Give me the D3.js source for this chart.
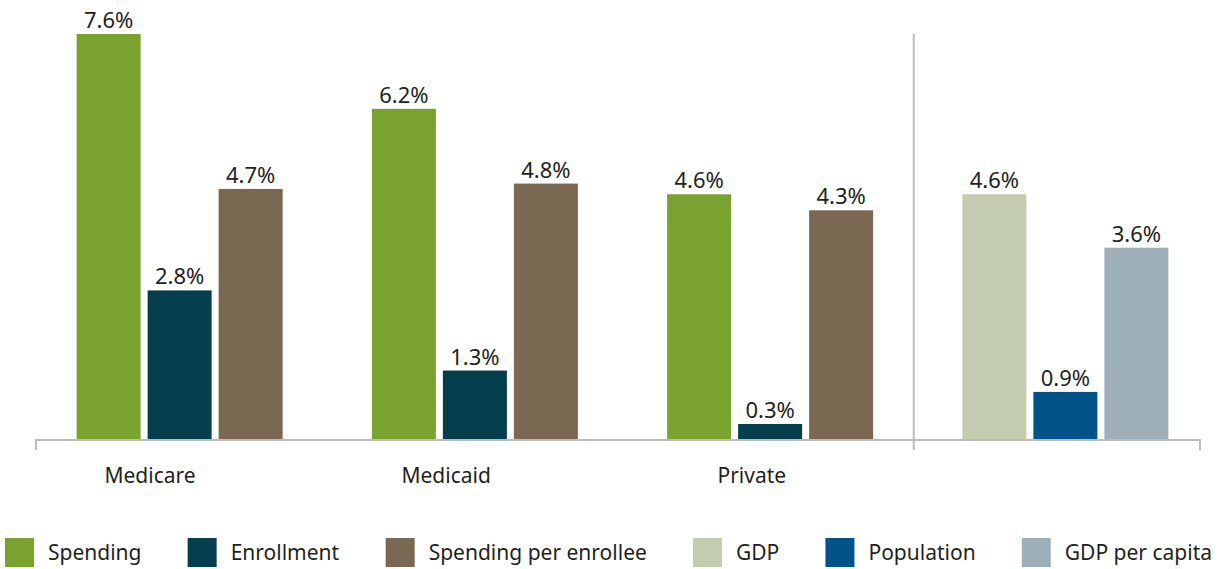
<!DOCTYPE html>
<html>
<head>
<meta charset="utf-8">
<script src="https://cdn.jsdelivr.net/npm/d3@7"></script>
<style>
  html, body { margin: 0; padding: 0; background: #fff; }
  svg { display: block; font-family: "Noto Sans", "Open Sans", sans-serif; }
</style>
</head>
<body>
<svg id="chart" width="1229" height="569"></svg>
<script>
// Average annual growth rates
const groups = ["Medicare", "Medicaid", "Private", "Economy"];
const groupLabels = ["Medicare", "Medicaid", "Private", ""];
const healthSeries = ["Spending", "Enrollment", "Spending per enrollee"];
const economySeries = ["GDP", "Population", "GDP per capita"];
const medicareValues = [7.6, 2.8, 4.7];
const medicaidValues = [6.2, 1.3, 4.8];
const privateValues = [4.6, 0.3, 4.3];
const economyValues = [4.6, 0.9, 3.6];
const legendNames = ["Spending", "Enrollment", "Spending per enrollee", "GDP", "Population", "GDP per capita"];
const legendColors = ["#7aa22f", "#053e4d", "#7b6853", "#c3ccaf", "#005389", "#9fafba"];

const groupValues = [medicareValues, medicaidValues, privateValues, economyValues];
const colorOf = d3.scaleOrdinal().domain(legendNames).range(legendColors);

const rows = [];
groups.forEach((g, gi) => {
  const names = gi < 3 ? healthSeries : economySeries;
  names.forEach((s, si) => rows.push({ group: g, slot: si, series: s, value: groupValues[gi][si] }));
});

const svg = d3.select("#chart");
const baseY = 440;
const axisLeft = 36, axisRight = 1200;

const x0 = d3.scaleBand().domain(groups).range([32, 1213]);
const x1 = d3.scaleBand().domain([0, 1, 2]).range([-103, 103]).paddingInner(7 / 71);
const y = d3.scaleLinear().domain([0, 7.6]).range([baseY, 34]);

const textColor = "#231f20";
const axisColor = "#bcbcbc";

// Bars
const bars = svg.append("g");
bars.selectAll("rect").data(rows).join("rect")
  .attr("x", d => x0(d.group) + x0.bandwidth() / 2 + x1(d.slot))
  .attr("width", x1.bandwidth())
  .attr("y", d => y(d.value))
  .attr("height", d => baseY - y(d.value))
  .attr("fill", d => colorOf(d.series));

// Value labels
bars.selectAll("text").data(rows).join("text")
  .attr("x", d => x0(d.group) + x0.bandwidth() / 2 + x1(d.slot) + x1.bandwidth() / 2)
  .attr("y", d => y(d.value) - 6)
  .attr("text-anchor", "middle")
  .attr("font-size", 22)
  .attr("fill", textColor)
  .text(d => d.value.toFixed(1) + "%");

// Category axis with a divider before the economy group
const axis = svg.append("g").attr("stroke", axisColor).attr("stroke-width", 2).attr("fill", "none");
axis.append("path").attr("d", `M${axisLeft},450V${baseY}H${axisRight}V450`);
const sepX = x0(groups[3]) - 4;
axis.append("line").attr("x1", sepX).attr("x2", sepX).attr("y1", y(7.6)).attr("y2", 450);

svg.append("g").selectAll("text").data(groups).join("text")
  .attr("x", d => x0(d) + x0.bandwidth() / 2 + 16)
  .attr("y", 483)
  .attr("text-anchor", "end")
  .attr("font-size", 21)
  .attr("fill", textColor)
  .text((d, i) => groupLabels[i]);

// Legend: items spread evenly across the width
const legend = svg.append("g");
const items = legend.selectAll("g").data(legendNames).join("g");
items.append("rect").attr("width", 29).attr("height", 29).attr("y", 538).attr("fill", d => colorOf(d));
items.append("text").attr("x", 43).attr("y", 560).attr("font-size", 21).attr("fill", textColor).text(d => d);

const widths = [];
items.each(function () { widths.push(this.getBBox().width); });
const left = 5, right = 1212;
const totalW = d3.sum(widths);
const gap = (right - left - totalW) / (legendNames.length - 1);
let cx = left;
items.each(function (d, i) {
  d3.select(this).attr("transform", `translate(${cx},0)`);
  cx += widths[i] + gap;
});
</script>
</body>
</html>
